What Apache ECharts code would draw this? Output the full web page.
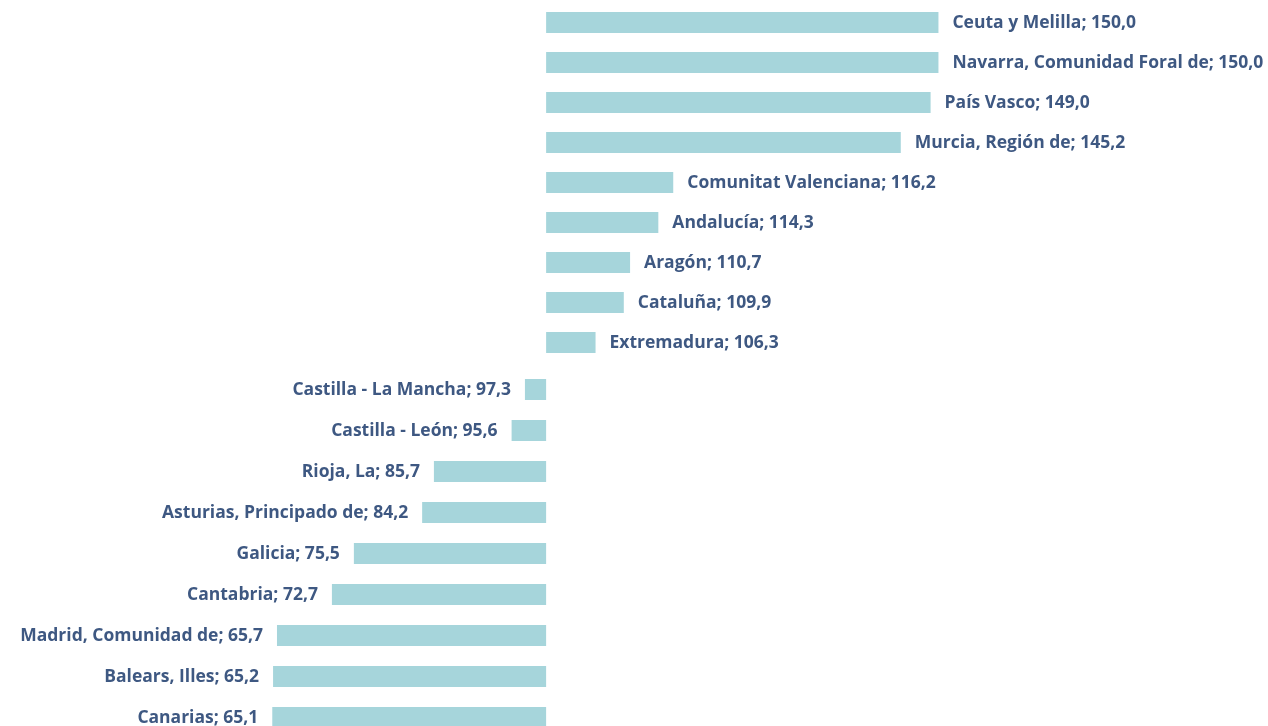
<!DOCTYPE html>
<html>
<head>
<meta charset="utf-8">
<script src="https://cdn.jsdelivr.net/npm/echarts@6/dist/echarts.min.js"></script>
<style>
  html, body { margin: 0; padding: 0; background: #fff; }
  #chart { width: 1268px; height: 726px; }
</style>
</head>
<body>
<div id="chart"></div>
<script>
// regiones por encima de 100 (arriba) y por debajo (abajo)
const topRegions = ['Ceuta y Melilla', 'Navarra, Comunidad Foral de', 'País Vasco', 'Murcia, Región de',
  'Comunitat Valenciana', 'Andalucía', 'Aragón', 'Cataluña', 'Extremadura'];
const topValues = [150.0, 150.0, 149.0, 145.2, 116.2, 114.3, 110.7, 109.9, 106.3];
const bottomRegions = ['Castilla - La Mancha', 'Castilla - León', 'Rioja, La', 'Asturias, Principado de',
  'Galicia', 'Cantabria', 'Madrid, Comunidad de', 'Balears, Illes', 'Canarias'];
const bottomValues = [97.3, 95.6, 85.7, 84.2, 75.5, 72.7, 65.7, 65.2, 65.1];
const baseValue = 100;

const barColor = '#a6d5db';
const textColor = '#3e5882';

function fmt(v) {
  return v.toFixed(1).replace('.', ',');
}

function makeData(names, values) {
  return values.map((v, i) => ({
    value: +(v - baseValue).toFixed(2),
    name: names[i],
    label: {position: v >= baseValue ? 'right' : 'left'}
  }));
}

function makeSeries(idx, names, values) {
  return {
    type: 'bar',
    xAxisIndex: idx,
    yAxisIndex: idx,
    barWidth: 21,
    itemStyle: {color: barColor},
    label: {
      show: true,
      distance: 14,
      color: textColor,
      fontFamily: 'Open Sans',
      fontWeight: 'bold',
      fontSize: 17.5,
      offset: [0, 1],
      formatter: p => names[p.dataIndex] + '; ' + fmt(values[p.dataIndex])
    },
    silent: true,
    data: makeData(names, values)
  };
}

const xAxisBase = {
  type: 'value',
  min: -69.6,
  max: 92,
  show: false
};

let chart = echarts.init(document.getElementById('chart'), null, {renderer: 'canvas'});
let option = {
  animation: false,
  grid: [
    {left: 0, right: 0, top: 2.5, height: 360, outerBoundsMode: 'none'},
    {left: 0, right: 0, top: 369, height: 369, outerBoundsMode: 'none'}
  ],
  xAxis: [
    Object.assign({gridIndex: 0}, xAxisBase),
    Object.assign({gridIndex: 1}, xAxisBase)
  ],
  yAxis: [
    {type: 'category', gridIndex: 0, data: topRegions, inverse: true, show: false},
    {type: 'category', gridIndex: 1, data: bottomRegions, inverse: true, show: false}
  ],
  series: [
    makeSeries(0, topRegions, topValues),
    makeSeries(1, bottomRegions, bottomValues)
  ]
};
chart.setOption(option);
</script>
</body>
</html>
